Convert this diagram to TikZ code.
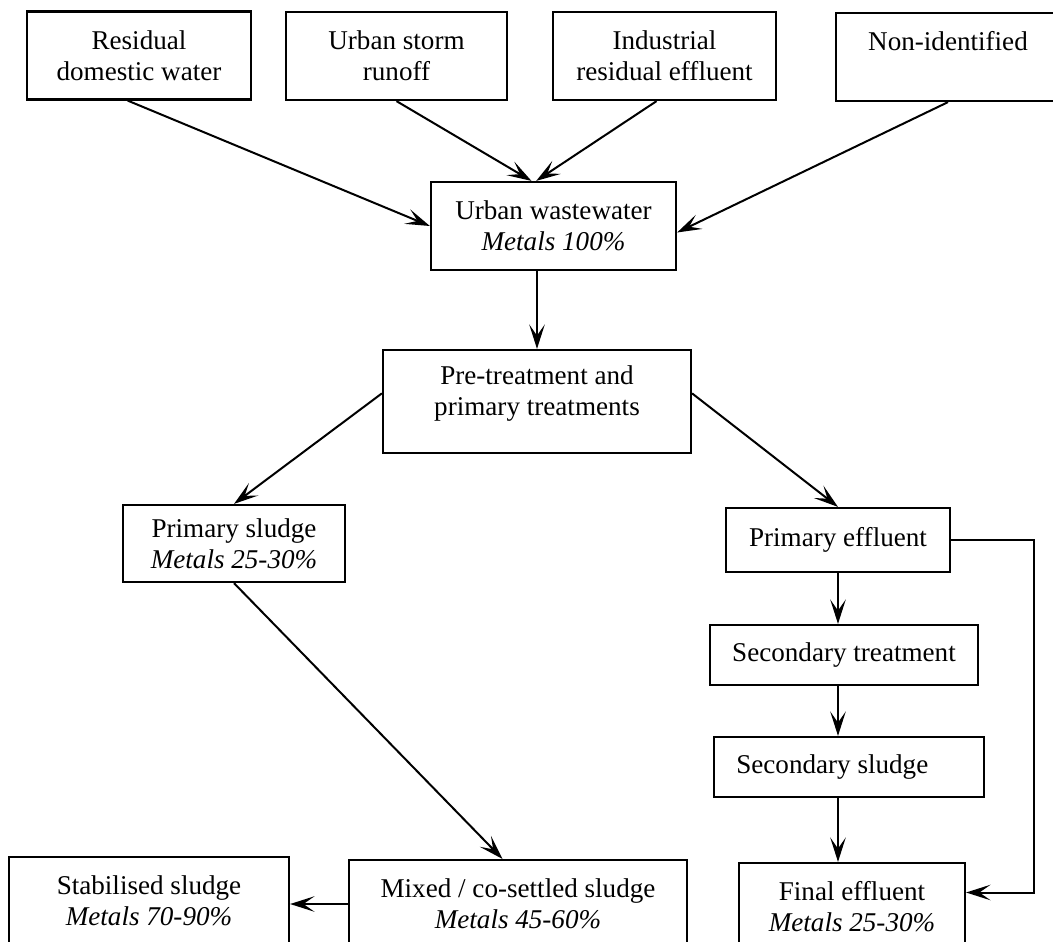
\documentclass[tikz,border=0pt]{standalone}
\usepackage{fontspec}
\setmainfont{Liberation Serif}
\usetikzlibrary{arrows.meta}

\begin{document}
\begin{tikzpicture}[x=0.45pt, y=-0.45pt, font=\fontsize{12.2}{14}\selectfont,
    box/.style={draw, line width=1pt, align=center, inner sep=0pt},
    wh/.style 2 args={minimum width=#1*0.45pt, minimum height=#2*0.45pt},
    flow/.style={-{Stealth[length=11pt, width=7pt, inset=5pt]}, line width=0.9pt}]
  \useasboundingbox (0,0) rectangle (1053,941);
  \clip (0,0) rectangle (1053,941);
  % sorgenti
  \node[box, wh={224}{88}] (resid) at (139,55.5) {Residual\\domestic water};
  \node[box, wh={221}{88}] (storm) at (396.5,56) {Urban storm\\runoff};
  \node[box, wh={223}{88}] (indus) at (664.5,56) {Industrial\\residual effluent};
  \node[box, wh={224}{88}] (nonid) at (948,57) {Non-identified\\\mbox{}};
  % impianto
  \node[box, wh={245}{88}] (urban) at (553.5,226) {Urban wastewater\\\textit{Metals 100\%}};
  \node[box, wh={308}{103}] (pretr) at (537,401.5) {Pre-treatment and\\primary treatments\\[-4pt]\mbox{}};
  \node[box, wh={222}{77}] (psludge) at (234,543.5) {Primary sludge\\\textit{Metals 25-30\%}};
  \node[box, wh={224}{64}] (peff) at (838,540) {Primary effluent};
  \node[box, wh={268}{60}] (sectr) at (844,655) {Secondary treatment};
  \node[box, wh={270}{60}] (secsl) at (849,767) {Secondary sludge\hspace*{15pt}};
  \node[box, wh={226}{87}] (final) at (852,906.5) {Final effluent\\\textit{Metals 25-30\%}};
  \node[box, wh={338}{88}] (mixed) at (518,904) {Mixed / co-settled sludge\\\textit{Metals 45-60\%}};
  \node[box, wh={280}{88}] (stab) at (149,901) {Stabilised sludge\\\textit{Metals 70-90\%}};
  % flussi
  \draw[flow] (resid.-104) -- (urban.west);
  \draw[flow] (storm.south) -- (urban.116);
  \draw[flow] (indus.-100) -- (urban.111);
  \draw[flow] (nonid.south) -- (urban.-3);
  \draw[flow] (pretr.north |- urban.south) -- (pretr.north);
  \draw[flow] (pretr.177) -- (psludge.north);
  \draw[flow] (pretr.3) -- (peff.north);
  \draw[flow] (peff.south) -- (peff.south |- sectr.north);
  \draw[flow] (peff.south |- sectr.south) -- (peff.south |- secsl.north);
  \draw[flow] (peff.south |- secsl.south) -- (peff.south |- final.north);
  \draw[flow] (peff.east) -- ++(83,0) |- (final.7);
  \draw[flow] (psludge.south) -- (mixed.109);
  \draw[flow] (mixed.west) -- (stab.east |- mixed.west);
\end{tikzpicture}
\end{document}
